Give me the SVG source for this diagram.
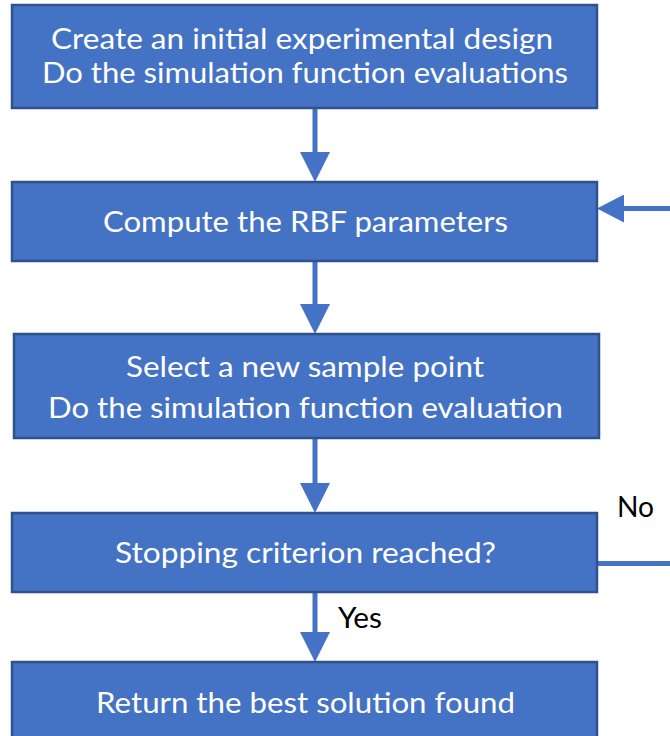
<svg xmlns="http://www.w3.org/2000/svg" width="670" height="736" viewBox="0 0 670 736">
  <style>
    .box { fill: #4472C4; stroke: #2F528F; stroke-width: 2.5; }
    .lbl { fill: #FFFFFF; font-family: "Lato", "Open Sans", "Liberation Sans", sans-serif; font-size: 28px; }
    .edge { fill: none; stroke: #4472C4; stroke-width: 5; }
    .elbl { fill: #000000; font-family: "Lato", "Open Sans", "Liberation Sans", sans-serif; font-size: 28px; }
  </style>
  <defs>
    <marker id="head" markerUnits="userSpaceOnUse" markerWidth="30" markerHeight="30" viewBox="0 0 30 30" refX="0" refY="15" orient="auto">
      <path d="M0,0 L30,15 L0,30 Z" fill="#4472C4"/>
    </marker>
    <marker id="headS" markerUnits="userSpaceOnUse" markerWidth="27" markerHeight="28" viewBox="0 0 27 28" refX="0" refY="14" orient="auto">
      <path d="M0,0 L27,14 L0,28 Z" fill="#4472C4"/>
    </marker>
  </defs>
  <rect width="670" height="736" fill="#FFFFFF"/>

  <g id="connectors">
    <path class="edge" d="M315,108 V152" marker-end="url(#head)"/>
    <path class="edge" d="M315,262 V304" marker-end="url(#head)"/>
    <path class="edge" d="M315,438 V483" marker-end="url(#head)"/>
    <path class="edge" d="M315,592 V632" marker-end="url(#head)"/>
    <path class="edge" d="M597,563.5 H672"/>
    <path class="edge" d="M672,208.5 H624" marker-end="url(#headS)"/>
    <text class="elbl" x="338" y="628" textLength="44" lengthAdjust="spacingAndGlyphs">Yes</text>
    <text class="elbl" x="617" y="517" textLength="37" lengthAdjust="spacingAndGlyphs">No</text>
  </g>

  <g id="n1">
    <rect class="box" x="12" y="5" width="585" height="103"/>
    <text class="lbl" x="51" y="49" textLength="502" lengthAdjust="spacingAndGlyphs">Create an initial experimental design</text>
    <text class="lbl" x="42" y="83" textLength="526" lengthAdjust="spacingAndGlyphs">Do the simulation function evaluations</text>
  </g>
  <g id="n2">
    <rect class="box" x="12" y="182" width="585" height="79"/>
    <text class="lbl" x="103" y="232" textLength="405" lengthAdjust="spacingAndGlyphs">Compute the RBF parameters</text>
  </g>
  <g id="n3">
    <rect class="box" x="14" y="334" width="585" height="104"/>
    <text class="lbl" x="126" y="377" textLength="358" lengthAdjust="spacingAndGlyphs">Select a new sample point</text>
    <text class="lbl" x="48" y="418" textLength="515" lengthAdjust="spacingAndGlyphs">Do the simulation function evaluation</text>
  </g>
  <g id="n4">
    <rect class="box" x="12" y="513" width="585" height="79"/>
    <text class="lbl" x="115" y="563" textLength="381" lengthAdjust="spacingAndGlyphs">Stopping criterion reached?</text>
  </g>
  <g id="n5">
    <rect class="box" x="12" y="662" width="585" height="100"/>
    <text class="lbl" x="96" y="713" textLength="419" lengthAdjust="spacingAndGlyphs">Return the best solution found</text>
  </g>
</svg>
